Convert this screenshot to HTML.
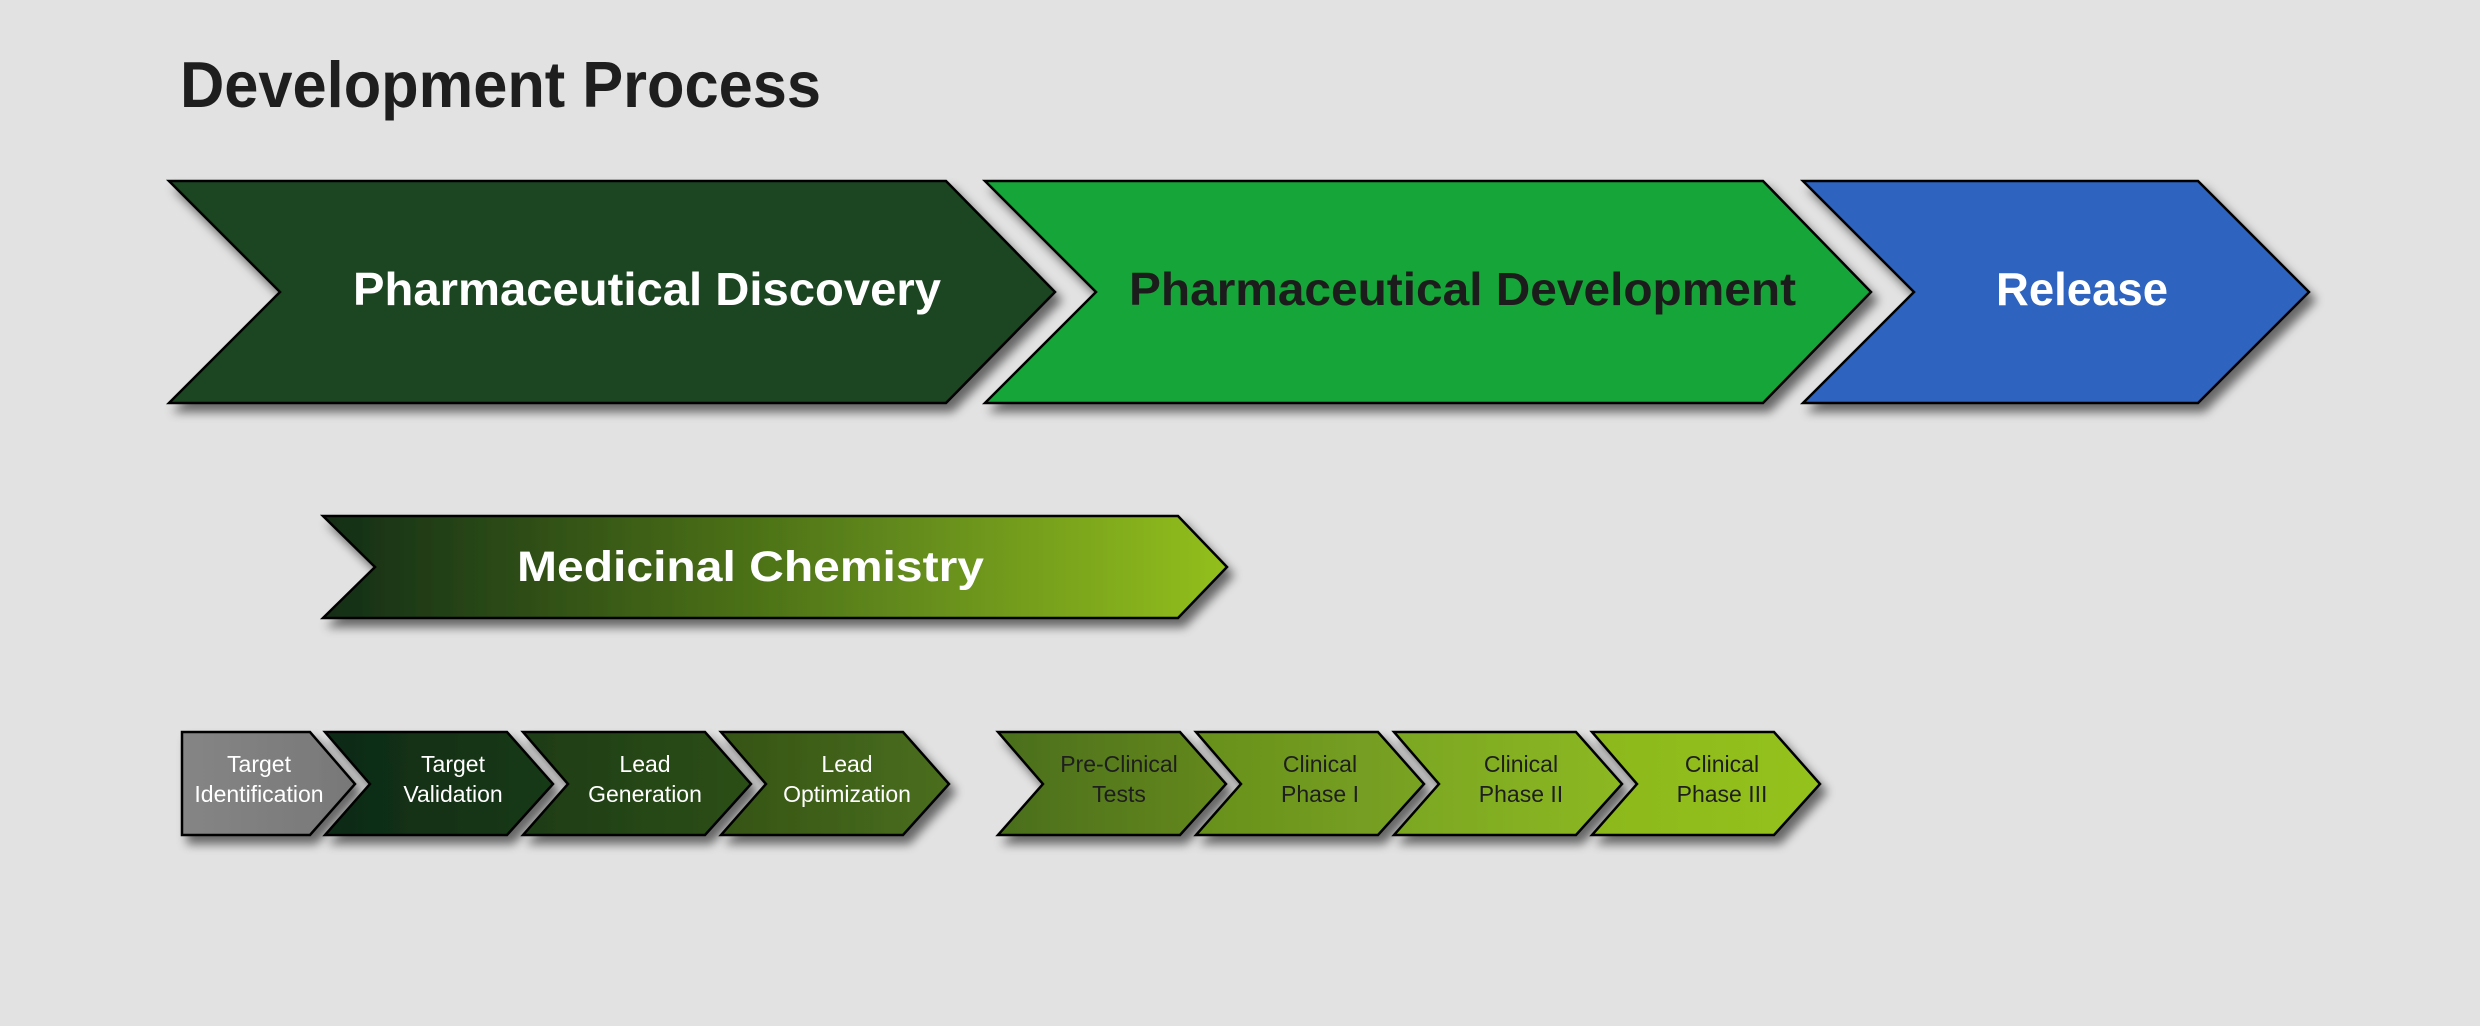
<!DOCTYPE html>
<html><head><meta charset="utf-8"><style>
html,body{margin:0;padding:0;background:#e2e2e2;}
svg{display:block;}
text{font-family:"Liberation Sans",sans-serif;}
</style></head><body>
<svg width="2480" height="1026" viewBox="0 0 2480 1026" xmlns="http://www.w3.org/2000/svg">
<defs>
<filter id="sh" x="-10%" y="-20%" width="130%" height="150%">
<feGaussianBlur in="SourceAlpha" stdDeviation="5"/>
<feOffset dx="6" dy="8" result="b"/>
<feComponentTransfer><feFuncA type="linear" slope="0.55"/></feComponentTransfer>
<feMerge><feMergeNode/><feMergeNode in="SourceGraphic"/></feMerge>
</filter>
<linearGradient id="mc" x1="0" x2="1"><stop offset="0" stop-color="#132d14"/><stop offset="0.5" stop-color="#4f7519"/><stop offset="1" stop-color="#93bf1e"/></linearGradient>
<linearGradient id="g1" x1="0" x2="1"><stop offset="0" stop-color="#858585"/><stop offset="1" stop-color="#787878"/></linearGradient>
<linearGradient id="g2" x1="0" x2="1"><stop offset="0" stop-color="#0f2a12"/><stop offset="1" stop-color="#173a17"/></linearGradient>
<linearGradient id="g3" x1="0" x2="1"><stop offset="0" stop-color="#1e3c16"/><stop offset="1" stop-color="#2c4f19"/></linearGradient>
<linearGradient id="g4" x1="0" x2="1"><stop offset="0" stop-color="#355418"/><stop offset="1" stop-color="#4a6e1b"/></linearGradient>
<linearGradient id="g5" x1="0" x2="1"><stop offset="0" stop-color="#4a6e1a"/><stop offset="1" stop-color="#65891e"/></linearGradient>
<linearGradient id="g6" x1="0" x2="1"><stop offset="0" stop-color="#67901e"/><stop offset="1" stop-color="#7aa321"/></linearGradient>
<linearGradient id="g7" x1="0" x2="1"><stop offset="0" stop-color="#7ba620"/><stop offset="1" stop-color="#8cb820"/></linearGradient>
<linearGradient id="g8" x1="0" x2="1"><stop offset="0" stop-color="#8cb81f"/><stop offset="1" stop-color="#95c21f"/></linearGradient>
</defs>

<text x="180" y="107" font-size="65" font-weight="bold" fill="#1e1e1e" textLength="641" lengthAdjust="spacingAndGlyphs">Development Process</text>

<g filter="url(#sh)" stroke="#000" stroke-width="2.5">
<polygon points="169,181 946,181 1055,292 946,403 169,403 280,292" fill="#1a4424"/>
<polygon points="985,181 1763,181 1871,292 1763,403 985,403 1096,292" fill="#14a538"/>
<polygon points="1803,181 2198,181 2309,292 2198,403 1803,403 1914,292" fill="#2f63bf"/>
<polygon points="323,516 1178,516 1227,567 1178,618 323,618 375,567" fill="url(#mc)"/>
</g>
<text x="353" y="305" font-size="46" font-weight="bold" fill="#fff" textLength="588" lengthAdjust="spacingAndGlyphs">Pharmaceutical Discovery</text>
<text x="1129" y="305" font-size="46" font-weight="bold" fill="#1c1c1c" textLength="667" lengthAdjust="spacingAndGlyphs">Pharmaceutical Development</text>
<text x="1996" y="305" font-size="46" font-weight="bold" fill="#fff" textLength="172" lengthAdjust="spacingAndGlyphs">Release</text>
<text x="517" y="581" font-size="43" font-weight="bold" fill="#fff" textLength="467" lengthAdjust="spacingAndGlyphs">Medicinal Chemistry</text>

<g filter="url(#sh)" stroke="#000" stroke-width="2.5">
<polygon points="182,732 310,732 355,784 310,835 182,835" fill="url(#g1)"/>
<polygon points="325,732 507,732 553,784 507,835 325,835 370,784" fill="url(#g2)"/>
<polygon points="523,732 705,732 751,784 705,835 523,835 568,784" fill="url(#g3)"/>
<polygon points="721,732 903,732 949,784 903,835 721,835 766,784" fill="url(#g4)"/>
<polygon points="998,732 1180,732 1226,784 1180,835 998,835 1043,784" fill="url(#g5)"/>
<polygon points="1196,732 1378,732 1424,784 1378,835 1196,835 1241,784" fill="url(#g6)"/>
<polygon points="1394,732 1576,732 1622,784 1576,835 1394,835 1439,784" fill="url(#g7)"/>
<polygon points="1592,732 1774,732 1820,784 1774,835 1592,835 1637,784" fill="url(#g8)"/>
</g>
<g font-size="23" text-anchor="middle">
<g fill="#fff">
<text x="259" y="772">Target</text><text x="259" y="802">Identification</text>
<text x="453" y="772">Target</text><text x="453" y="802">Validation</text>
<text x="645" y="772">Lead</text><text x="645" y="802">Generation</text>
<text x="847" y="772">Lead</text><text x="847" y="802">Optimization</text>
</g>
<g fill="#1e1e1e">
<text x="1119" y="772">Pre-Clinical</text><text x="1119" y="802">Tests</text>
<text x="1320" y="772">Clinical</text><text x="1320" y="802">Phase I</text>
<text x="1521" y="772">Clinical</text><text x="1521" y="802">Phase II</text>
<text x="1722" y="772">Clinical</text><text x="1722" y="802">Phase III</text>
</g>
</g>
</svg>
</body></html>
